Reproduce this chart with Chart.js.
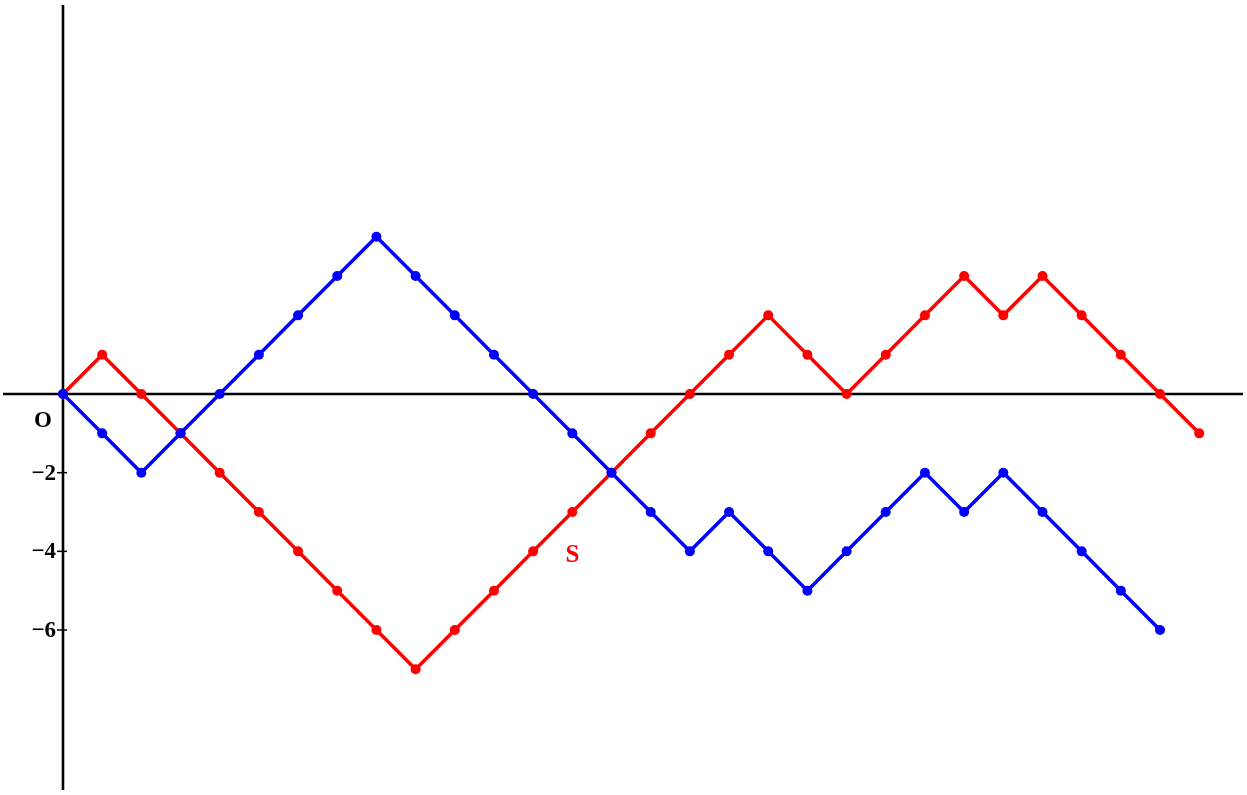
<!DOCTYPE html>
<html>
<head>
<meta charset="utf-8">
<script src="https://cdn.jsdelivr.net/npm/chart.js@4.4.0/dist/chart.umd.min.js"></script>
<style>
  html, body { margin: 0; padding: 0; background: #fff; }
  .wrap { width: 1247px; height: 795px; position: relative; }
</style>
</head>
<body>
<div class="wrap"><canvas id="walk"></canvas></div>
<script>
// two random walks, one step per unit on x
let blueWalk = [0, -1, -2, -1, 0, 1, 2, 3, 4, 3, 2, 1, 0, -1, -2, -3, -4, -3, -4, -5, -4, -3, -2, -3, -2, -3, -4, -5, -6];
let redWalk = [0, 1, 0, -1, -2, -3, -4, -5, -6, -7, -6, -5, -4, -3, -2, -1, 0, 1, 2, 1, 0, 1, 2, 3, 2, 3, 2, 1, 0, -1];
let yTickValues = [-2, -4, -6];
let yTickLabels = ['\u22122', '\u22124', '\u22126'];
let originLabel = 'O';
let seriesLabel = 'S';
let seriesLabelAt = [13.0, -4.1];

let toPoints = function(walk) {
  return walk.map(function(v, i) { return {x: i, y: v}; });
};

// axes, ticks and labels drawn from the scales
let axesPlugin = {
  id: 'axesPlugin',
  beforeDatasetsDraw: function(chart) {
    let ctx = chart.ctx;
    let xs = chart.scales.x;
    let ys = chart.scales.y;
    let x0 = xs.getPixelForValue(0);
    let y0 = ys.getPixelForValue(0);
    ctx.save();
    ctx.strokeStyle = '#000';
    ctx.lineWidth = 2.6;
    ctx.beginPath();
    ctx.moveTo(3, y0);
    ctx.lineTo(chart.width - 4, y0);
    ctx.moveTo(x0, 5);
    ctx.lineTo(x0, chart.height - 5);
    ctx.stroke();

    ctx.lineWidth = 1.5;
    ctx.font = 'bold 23px "Liberation Serif", "DejaVu Serif", serif';
    ctx.fillStyle = '#000';
    ctx.textAlign = 'right';
    ctx.textBaseline = 'middle';
    yTickValues.forEach(function(v, i) {
      let py = ys.getPixelForValue(v);
      ctx.beginPath();
      ctx.moveTo(x0 - 6, py);
      ctx.lineTo(x0 + 4, py);
      ctx.stroke();
      ctx.fillText(yTickLabels[i], x0 - 7, py + 1);
    });
    ctx.textAlign = 'center';
    ctx.fillText(originLabel, x0 - 20, y0 + 27);
    ctx.restore();
  },
  afterDatasetsDraw: function(chart) {
    let ctx = chart.ctx;
    ctx.save();
    ctx.font = 'bold 25px "Liberation Serif", "DejaVu Serif", serif';
    ctx.fillStyle = '#ff0000';
    ctx.textAlign = 'center';
    ctx.textBaseline = 'middle';
    ctx.fillText(seriesLabel, chart.scales.x.getPixelForValue(seriesLabelAt[0]), chart.scales.y.getPixelForValue(seriesLabelAt[1]));
    ctx.restore();
  }
};

let walkChart = new Chart(document.getElementById('walk'), {
  type: 'line',
  data: {
    datasets: [
      {
        data: toPoints(blueWalk),
        borderColor: '#0000ff',
        backgroundColor: '#0000ff',
        borderWidth: 3.5,
        pointRadius: 5,
        pointBorderWidth: 0,
        tension: 0
      },
      {
        data: toPoints(redWalk),
        borderColor: '#ff0000',
        backgroundColor: '#ff0000',
        borderWidth: 3.5,
        pointRadius: 5,
        pointBorderWidth: 0,
        tension: 0
      }
    ]
  },
  options: {
    responsive: true,
    maintainAspectRatio: false,
    animation: false,
    layout: { padding: 0 },
    plugins: {
      legend: { display: false },
      tooltip: { enabled: false }
    },
    scales: {
      x: { type: 'linear', display: false, min: -1.48, max: 30.092 },
      y: { type: 'linear', display: false, min: -10.068, max: 9.891 }
    }
  },
  plugins: [axesPlugin]
});
</script>
</body>
</html>
